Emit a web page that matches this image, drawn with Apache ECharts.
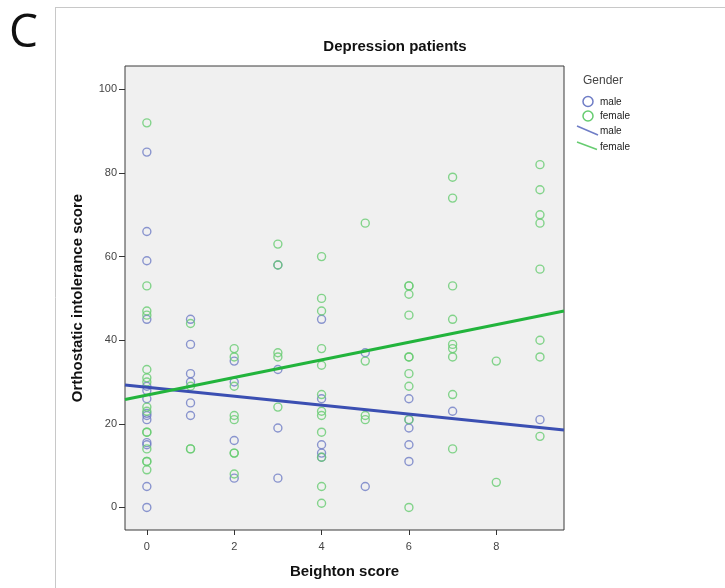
<!DOCTYPE html>
<html>
<head>
<meta charset="utf-8">
<script src="https://cdn.jsdelivr.net/npm/echarts@6/dist/echarts.min.js"></script>
<style>html,body{margin:0;padding:0;background:#fff;}#c{width:725px;height:588px;}</style>
</head>
<body>
<div id="c"></div>
<script>
// ---- data ----
const xTicks = [0, 2, 4, 6, 8];
const yTicks = [0, 20, 40, 60, 80, 100];
const maleBeighton = [0,0,0,0,0,0,0,0,0,0,0,0,0,0, 1,1,1,1,1,1, 2,2,2,2, 3,3,3,3, 4,4,4,4,4, 5,5, 6,6,6,6,6, 7, 9];
const maleOI       = [85,66,59,45,29,28,26,22.5,22,21,15.5,15,5,0, 45,39,32,30,25,22, 35,30,16,7, 58,33,19,7, 45,26,15,13,12, 37,5, 26,21,19,15,11, 23, 21];
const femaleBeighton = [0,0,0,0,0,0,0,0,0,0,0,0,0,0,0, 1,1,1,1, 2,2,2,2,2,2,2,2, 3,3,3,3,3, 4,4,4,4,4,4,4,4,4,4,4,4, 5,5,5,5, 6,6,6,6,6,6,6,6,6,6, 7,7,7,7,7,7,7,7,7, 8,8, 9,9,9,9,9,9,9,9];
const femaleOI       = [92,53,47,46,33,31,30,24,23,18,18,14,11,11,9, 44,29,14,14, 38,36,29,22,21,13,13,8, 63,58,37,36,24, 60,50,47,38,34,27,23,22,18,12,5,1, 68,35,22,21, 53,53,51,46,36,36,32,29,21,0, 79,74,53,45,39,38,36,27,14, 35,6, 82,76,70,68,57,40,36,17];
// fitted lines (endpoints at plot edges)
const maleFit = [[-0.5, 29.3], [9.55, 18.5]];
const femaleFit = [[-0.5, 25.8], [9.55, 47.0]];
const legendLabels = ['male', 'female', 'male', 'female'];

const MALE_PT = '#6f7dc6', FEMALE_PT = '#66cc70';
const MALE_LN = '#3b4fb2', FEMALE_LN = '#22b43c';

function pairs(xs, ys) { return xs.map((x, i) => [x, ys[i]]); }

const chart = echarts.init(document.getElementById('c'));
const font = '"Liberation Sans", Arial, sans-serif';

chart.setOption({
  backgroundColor: '#ffffff',
  animation: false,
  textStyle: { fontFamily: font },
  grid: { left: 125, top: 66, right: 161, bottom: 58, show: true, backgroundColor: '#f0f0f0', borderColor: '#3a3a3a', borderWidth: 1 },
  xAxis: {
    type: 'value', min: -0.5, max: 9.55,
    name: 'Beighton score', nameLocation: 'middle', nameGap: 34,
    nameTextStyle: { fontFamily: font, fontWeight: 'bold', fontSize: 15, color: '#111' },
    axisLine: { show: false, onZero: false },
    axisTick: { show: true, length: 5, customValues: xTicks, lineStyle: { color: '#333' } },
    axisLabel: { customValues: xTicks, fontSize: 11, color: '#444', margin: 11, fontFamily: font },
    splitLine: { show: false }
  },
  yAxis: {
    type: 'value', min: -5.4, max: 105.6,
    name: 'Orthostatic intolerance score', nameLocation: 'middle', nameGap: 40,
    nameTextStyle: { fontFamily: font, fontWeight: 'bold', fontSize: 15, color: '#111' },
    axisLine: { show: false, onZero: false },
    axisTick: { show: true, length: 6, customValues: yTicks, lineStyle: { color: '#333' } },
    axisLabel: { customValues: yTicks, fontSize: 11, color: '#444', margin: 8, fontFamily: font },
    splitLine: { show: false }
  },
  series: [
    { name: 'male', type: 'scatter', data: pairs(maleBeighton, maleOI), symbol: 'circle', symbolSize: 8,
      itemStyle: { color: 'rgba(0,0,0,0)', borderColor: MALE_PT, borderWidth: 1.4 }, z: 3 },
    { name: 'female', type: 'scatter', data: pairs(femaleBeighton, femaleOI), symbol: 'circle', symbolSize: 8,
      itemStyle: { color: 'rgba(0,0,0,0)', borderColor: FEMALE_PT, borderWidth: 1.4 }, z: 3 },
    { name: 'male fit', type: 'line', data: maleFit, symbol: 'none', lineStyle: { color: MALE_LN, width: 3 }, z: 4 },
    { name: 'female fit', type: 'line', data: femaleFit, symbol: 'none', lineStyle: { color: FEMALE_LN, width: 3 }, z: 4 }
  ],
  graphic: [
    { type: 'line', shape: { x1: 55, y1: 7.5, x2: 725, y2: 7.5 }, style: { stroke: '#c8c8c8', lineWidth: 1 } },
    { type: 'line', shape: { x1: 55.5, y1: 7, x2: 55.5, y2: 588 }, style: { stroke: '#c8c8c8', lineWidth: 1 } },
    { type: 'text', left: 9, top: 11, style: { text: 'C', font: '46px "Open Sans", sans-serif', fill: '#111' } },
    { type: 'text', x: 395, y: 47, style: { text: 'Depression patients', font: 'bold 15px ' + font, fill: '#111', align: 'center', verticalAlign: 'middle' } },
    { type: 'text', x: 583, y: 81, style: { text: 'Gender', font: '12px ' + font, fill: '#444', verticalAlign: 'middle' } },
    { type: 'circle', shape: { cx: 588, cy: 101.5, r: 5 }, style: { fill: 'none', stroke: MALE_PT, lineWidth: 1.5 } },
    { type: 'circle', shape: { cx: 588, cy: 116, r: 5 }, style: { fill: 'none', stroke: FEMALE_PT, lineWidth: 1.5 } },
    { type: 'line', shape: { x1: 577, y1: 126, x2: 598, y2: 135 }, style: { stroke: MALE_PT, lineWidth: 1.5 } },
    { type: 'line', shape: { x1: 577, y1: 142, x2: 597, y2: 149.5 }, style: { stroke: FEMALE_PT, lineWidth: 1.5 } },
    { type: 'text', x: 600, y: 102, style: { text: legendLabels[0], font: '10px ' + font, fill: '#222', verticalAlign: 'middle' } },
    { type: 'text', x: 600, y: 116.5, style: { text: legendLabels[1], font: '10px ' + font, fill: '#222', verticalAlign: 'middle' } },
    { type: 'text', x: 600, y: 131, style: { text: legendLabels[2], font: '10px ' + font, fill: '#222', verticalAlign: 'middle' } },
    { type: 'text', x: 600, y: 147, style: { text: legendLabels[3], font: '10px ' + font, fill: '#222', verticalAlign: 'middle' } }
  ]
});
</script>
</body>
</html>
